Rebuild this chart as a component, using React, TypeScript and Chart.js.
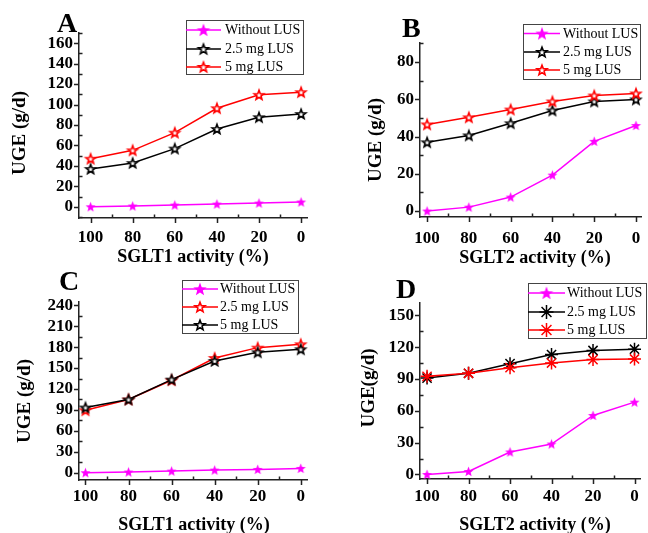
import React, { useEffect, useRef } from 'react';
import { Chart, registerables } from 'chart.js';

Chart.register(...registerables);

// ---------------- data ----------------
const activity = [100, 80, 60, 40, 20, 0];
const xMajorTicks = [100, 80, 60, 40, 20, 0];

const seriesLabels = ['Without LUS', '2.5 mg LUS', '5 mg LUS'];

// Panel A (SGLT1)
const aWithout = [0, 0.7, 1.6, 2.6, 3.6, 4.6];
const a25 = [37, 42.8, 56.9, 76.1, 87.6, 90.8];
const a5 = [47, 55.2, 72.5, 96.4, 109.5, 112.1];
const aYTicks = [0, 20, 40, 60, 80, 100, 120, 140, 160];

// Panel B (SGLT2)
const bWithout = [0, 2.1, 7.5, 19.3, 37.4, 45.9];
const b25 = [36.9, 40.6, 47.1, 54.0, 58.8, 59.9];
const b5 = [46.5, 50.3, 54.5, 58.8, 62.0, 63.1];
const bYTicks = [0, 20, 40, 60, 80];

// Panel C (SGLT1)
const cWithout = [0, 1, 2.4, 3.8, 4.8, 6.2];
const c25 = [89.6, 104.9, 132.6, 164.5, 179.3, 184.1];
const c5 = [93.5, 104.9, 133.5, 160.2, 172.6, 176.9];
const cYTicks = [0, 30, 60, 90, 120, 150, 180, 210, 240];

// Panel D (SGLT2)
const dWithout = [0, 2.8, 21.2, 28.7, 55.6, 68.2];
const d25 = [90.9, 95.4, 104.5, 113.1, 116.9, 118.1];
const d5 = [92.5, 95.4, 100.7, 105.1, 108.3, 108.9];
const dYTicks = [0, 30, 60, 90, 120, 150];

// ---------------- styles ----------------
const W = 648;
const H = 533;
const SERIF = '"Times New Roman", "Liberation Serif", serif';
const AXIS = '#222';
const MAGENTA = '#ff00ff';
const BLACK = '#000000';
const RED = '#ff0000';

type Marker = 'filled' | 'hollow' | 'asterisk';

function makeStar(r: number, fill: string, stroke: string | null, lw: number): HTMLCanvasElement {
  const size = Math.ceil(2 * (r + lw) + 2);
  const c = document.createElement('canvas');
  c.width = size;
  c.height = size;
  const ctx = c.getContext('2d')!;
  const cx = size / 2;
  const cy = size / 2 + r * 0.08;
  ctx.beginPath();
  for (let i = 0; i < 10; i++) {
    const rr = i % 2 === 0 ? r : r * 0.42;
    const ang = -Math.PI / 2 + (i * Math.PI) / 5;
    const x = cx + rr * Math.cos(ang);
    const y = cy + rr * Math.sin(ang);
    if (i === 0) ctx.moveTo(x, y);
    else ctx.lineTo(x, y);
  }
  ctx.closePath();
  ctx.fillStyle = fill;
  ctx.fill();
  if (stroke) {
    ctx.lineJoin = 'miter';
    ctx.lineWidth = lw;
    ctx.strokeStyle = stroke;
    ctx.stroke();
  }
  return c;
}

function markerImage(marker: Marker, color: string, legend: boolean): HTMLCanvasElement | null {
  if (marker === 'filled') return makeStar(legend ? 7 : 5.3, color, null, 0);
  if (marker === 'hollow') return makeStar(legend ? 5.2 : 5, '#ffffff', color, 1.6);
  return null;
}

function drawAsterisk(ctx: CanvasRenderingContext2D, x: number, y: number, r: number, color: string) {
  ctx.save();
  ctx.strokeStyle = color;
  ctx.lineWidth = 1.5;
  ctx.beginPath();
  for (let k = 0; k < 4; k++) {
    const a = (k * Math.PI) / 4;
    ctx.moveTo(x - r * Math.cos(a), y - r * Math.sin(a));
    ctx.lineTo(x + r * Math.cos(a), y + r * Math.sin(a));
  }
  ctx.stroke();
  ctx.restore();
}

interface Series { label: string; data: number[]; color: string; marker: Marker }
interface Spec {
  id: string;
  letter: string; letterPos: [number, number];
  area: { left: number; right: number; top: number; bottom: number };
  xMin: number; xMax: number; yMin: number; yMax: number;
  yMajor: number[]; yMinorStep: number;
  xLabelPad: number;
  xTitle: string; xTitlePos: [number, number];
  yTitle: string; yTitlePos: [number, number];
  legend: { x1: number; y1: number; x2: number; y2: number; rows: number[]; lx1: number; lx2: number; tx: number };
  series: Series[];
}

const specs: Spec[] = [
  {
    id: 'A', letter: 'A', letterPos: [57, 32],
    area: { left: 79, right: 307, top: 33, bottom: 218 },
    xMin: -2.8, xMax: 105.5, yMin: -11, yMax: 170,
    yMajor: aYTicks, yMinorStep: 10, xLabelPad: 9,
    xTitle: 'SGLT1 activity (%)', xTitlePos: [193, 257],
    yTitle: 'UGE (g/d)', yTitlePos: [20, 133],
    legend: { x1: 186, y1: 20, x2: 303, y2: 74, rows: [30, 49, 67], lx1: 186, lx2: 221, tx: 225 },
    series: [
      { label: seriesLabels[0], data: aWithout, color: MAGENTA, marker: 'filled' },
      { label: seriesLabels[1], data: a25, color: BLACK, marker: 'hollow' },
      { label: seriesLabels[2], data: a5, color: RED, marker: 'hollow' },
    ],
  },
  {
    id: 'B', letter: 'B', letterPos: [402, 37],
    area: { left: 420, right: 648, top: 43, bottom: 217 },
    xMin: -2.65, xMax: 103.4, yMin: -3.2, yMax: 90.2,
    yMajor: bYTicks, yMinorStep: 10, xLabelPad: 11,
    xTitle: 'SGLT2 activity (%)', xTitlePos: [535, 258],
    yTitle: 'UGE (g/d)', yTitlePos: [376, 140],
    legend: { x1: 523, y1: 24, x2: 640, y2: 79, rows: [33.5, 52, 70], lx1: 524, lx2: 560, tx: 563 },
    series: [
      { label: seriesLabels[0], data: bWithout, color: MAGENTA, marker: 'filled' },
      { label: seriesLabels[1], data: b25, color: BLACK, marker: 'hollow' },
      { label: seriesLabels[2], data: b5, color: RED, marker: 'hollow' },
    ],
  },
  {
    id: 'C', letter: 'C', letterPos: [59, 290],
    area: { left: 79, right: 307, top: 302, bottom: 480 },
    xMin: -2.9, xMax: 103, yMin: -10.4, yMax: 244.7,
    yMajor: cYTicks, yMinorStep: 15, xLabelPad: 6,
    xTitle: 'SGLT1 activity (%)', xTitlePos: [194, 525],
    yTitle: 'UGE (g/d)', yTitlePos: [25, 401],
    legend: { x1: 182, y1: 280, x2: 298, y2: 333, rows: [289, 307, 325], lx1: 182, lx2: 218, tx: 220 },
    series: [
      { label: seriesLabels[0], data: cWithout, color: MAGENTA, marker: 'filled' },
      { label: seriesLabels[1], data: c25, color: RED, marker: 'hollow' },
      { label: seriesLabels[2], data: c5, color: BLACK, marker: 'hollow' },
    ],
  },
  {
    id: 'D', letter: 'D', letterPos: [396, 298],
    area: { left: 420, right: 648, top: 303, bottom: 479 },
    xMin: -2.65, xMax: 103.4, yMin: -4.3, yMax: 161.7,
    yMajor: dYTicks, yMinorStep: 15, xLabelPad: 7,
    xTitle: 'SGLT2 activity (%)', xTitlePos: [535, 525],
    yTitle: 'UGE(g/d)', yTitlePos: [369, 388],
    legend: { x1: 528, y1: 283, x2: 646, y2: 338, rows: [293, 312, 330], lx1: 528, lx2: 565, tx: 567 },
    series: [
      { label: seriesLabels[0], data: dWithout, color: MAGENTA, marker: 'filled' },
      { label: seriesLabels[1], data: d25, color: BLACK, marker: 'asterisk' },
      { label: seriesLabels[2], data: d5, color: RED, marker: 'asterisk' },
    ],
  },
];

function decorPlugin(spec: Spec) {
  return {
    id: 'decor' + spec.id,
    afterDraw(chart: any) {
      const ctx: CanvasRenderingContext2D = chart.ctx;
      const xs = chart.scales.x;
      const ys = chart.scales.y;
      const a = chart.chartArea;
      ctx.save();
      ctx.strokeStyle = AXIS;
      ctx.lineWidth = 1.5;
      ctx.beginPath();
      // x ticks: major outward, minor inward
      for (let v = 0; v <= 100; v += 10) {
        const px = Math.round(xs.getPixelForValue(v)) + 0.5;
        const major = v % 20 === 0;
        if (major) { ctx.moveTo(px, a.bottom); ctx.lineTo(px, a.bottom + 5); }
        else { ctx.moveTo(px, a.bottom); ctx.lineTo(px, a.bottom - 3.5); }
      }
      // y ticks
      const step = spec.yMinorStep;
      for (let v = Math.ceil(spec.yMin / step) * step; v <= spec.yMax; v += step) {
        const py = Math.round(ys.getPixelForValue(v)) + 0.5;
        const major = spec.yMajor.indexOf(v) >= 0;
        if (major) { ctx.moveTo(a.left - 5, py); ctx.lineTo(a.left, py); }
        else { ctx.moveTo(a.left, py); ctx.lineTo(a.left + 3.5, py); }
      }
      ctx.stroke();

      // panel letter
      ctx.fillStyle = '#000';
      ctx.font = `bold 28px ${SERIF}`;
      ctx.textAlign = 'left';
      ctx.textBaseline = 'alphabetic';
      ctx.fillText(spec.letter, spec.letterPos[0], spec.letterPos[1]);

      // axis titles
      ctx.font = `bold 18px ${SERIF}`;
      ctx.textAlign = 'center';
      ctx.textBaseline = 'middle';
      ctx.fillText(spec.xTitle, spec.xTitlePos[0], spec.xTitlePos[1]);
      ctx.save();
      ctx.translate(spec.yTitlePos[0], spec.yTitlePos[1]);
      ctx.rotate(-Math.PI / 2);
      ctx.font = `bold 19px ${SERIF}`;
      ctx.fillText(spec.yTitle, 0, 0);
      ctx.restore();

      // legend
      const L = spec.legend;
      ctx.fillStyle = '#fff';
      ctx.fillRect(L.x1, L.y1, L.x2 - L.x1, L.y2 - L.y1);
      ctx.strokeStyle = '#444';
      ctx.lineWidth = 1;
      ctx.strokeRect(Math.round(L.x1) + 0.5, Math.round(L.y1) + 0.5, Math.round(L.x2 - L.x1), Math.round(L.y2 - L.y1));
      spec.series.forEach((s, i) => {
        const y = L.rows[i];
        ctx.strokeStyle = s.color;
        ctx.lineWidth = 1.5;
        ctx.beginPath();
        ctx.moveTo(L.lx1, y);
        ctx.lineTo(L.lx2, y);
        ctx.stroke();
        const mx = (L.lx1 + L.lx2) / 2;
        if (s.marker === 'asterisk') {
          drawAsterisk(ctx, mx, y, 7, s.color);
        } else {
          const img = markerImage(s.marker, s.color, true)!;
          ctx.drawImage(img, mx - img.width / 2, y - img.height / 2);
        }
        ctx.fillStyle = '#000';
        ctx.font = `14px ${SERIF}`;
        ctx.textAlign = 'left';
        ctx.textBaseline = 'middle';
        ctx.fillText(s.label, L.tx, y + 0.5);
      });
      ctx.restore();
    },
  };
}

function Panel({ spec }: { spec: Spec }) {
  const ref = useRef<HTMLCanvasElement>(null);
  useEffect(() => {
    const canvas = ref.current!;
    const area = spec.area;
    const tickFont = { family: SERIF, size: 17, weight: 'bold' as const };
    const chart = new Chart(canvas, {
      type: 'line',
      data: {
        datasets: spec.series.map((s, i) => {
          const img = markerImage(s.marker, s.color, false);
          return {
            label: s.label,
            data: activity.map((x, j) => ({ x, y: s.data[j] })),
            borderColor: s.color,
            backgroundColor: s.color,
            borderWidth: 1.5,
            pointStyle: (img ? img : 'star') as any,
            pointRadius: s.marker === 'asterisk' ? 6.5 : 5,
            pointBorderColor: s.color,
            pointBackgroundColor: s.color,
            pointBorderWidth: 1.5,
            tension: 0,
            fill: false,
            clip: false as any,
            order: spec.series.length - i,
          };
        }),
      },
      options: {
        animation: false,
        responsive: false,
        maintainAspectRatio: false,
        devicePixelRatio: 1,
        events: [],
        layout: { padding: { top: area.top, right: W - area.right, left: 0, bottom: 0 } },
        plugins: { legend: { display: false }, tooltip: { enabled: false } },
        scales: {
          x: {
            type: 'linear',
            position: 'bottom',
            reverse: true,
            min: spec.xMin,
            max: spec.xMax,
            grid: { display: false, drawTicks: false, tickLength: 0 },
            border: { display: true, color: AXIS, width: 1.5 },
            ticks: {
              autoSkip: false,
              maxRotation: 0,
              padding: spec.xLabelPad,
              color: '#000',
              font: tickFont,
              callback: (v: any) => String(v),
            },
            afterBuildTicks: (s: any) => { s.ticks = xMajorTicks.map((v) => ({ value: v })); },
            afterFit: (s: any) => {
              s.height = H - area.bottom;
              s.paddingLeft = 0; s.paddingRight = 0; s.paddingTop = 0; s.paddingBottom = 0;
            },
          },
          y: {
            type: 'linear',
            position: 'left',
            min: spec.yMin,
            max: spec.yMax,
            grid: { display: false, drawTicks: false, tickLength: 0 },
            border: { display: true, color: AXIS, width: 1.5 },
            ticks: {
              autoSkip: false,
              padding: 6,
              color: '#000',
              font: tickFont,
              callback: (v: any) => String(v),
            },
            afterBuildTicks: (s: any) => { s.ticks = spec.yMajor.map((v) => ({ value: v })); },
            afterFit: (s: any) => {
              s.width = area.left;
              s.paddingLeft = 0; s.paddingRight = 0; s.paddingTop = 0; s.paddingBottom = 0;
            },
          },
        },
      } as any,
      plugins: [decorPlugin(spec)],
    });
    return () => chart.destroy();
  }, [spec]);
  return (
    <canvas
      ref={ref}
      width={W}
      height={H}
      style={{ position: 'absolute', left: 0, top: 0, width: W, height: H }}
    />
  );
}

export default function App() {
  return (
    <div
      style={{
        position: 'fixed',
        left: 0,
        top: 0,
        width: W,
        height: H,
        overflow: 'hidden',
        background: '#fff',
      }}
    >
      {specs.map((s) => (
        <Panel key={s.id} spec={s} />
      ))}
    </div>
  );
}
